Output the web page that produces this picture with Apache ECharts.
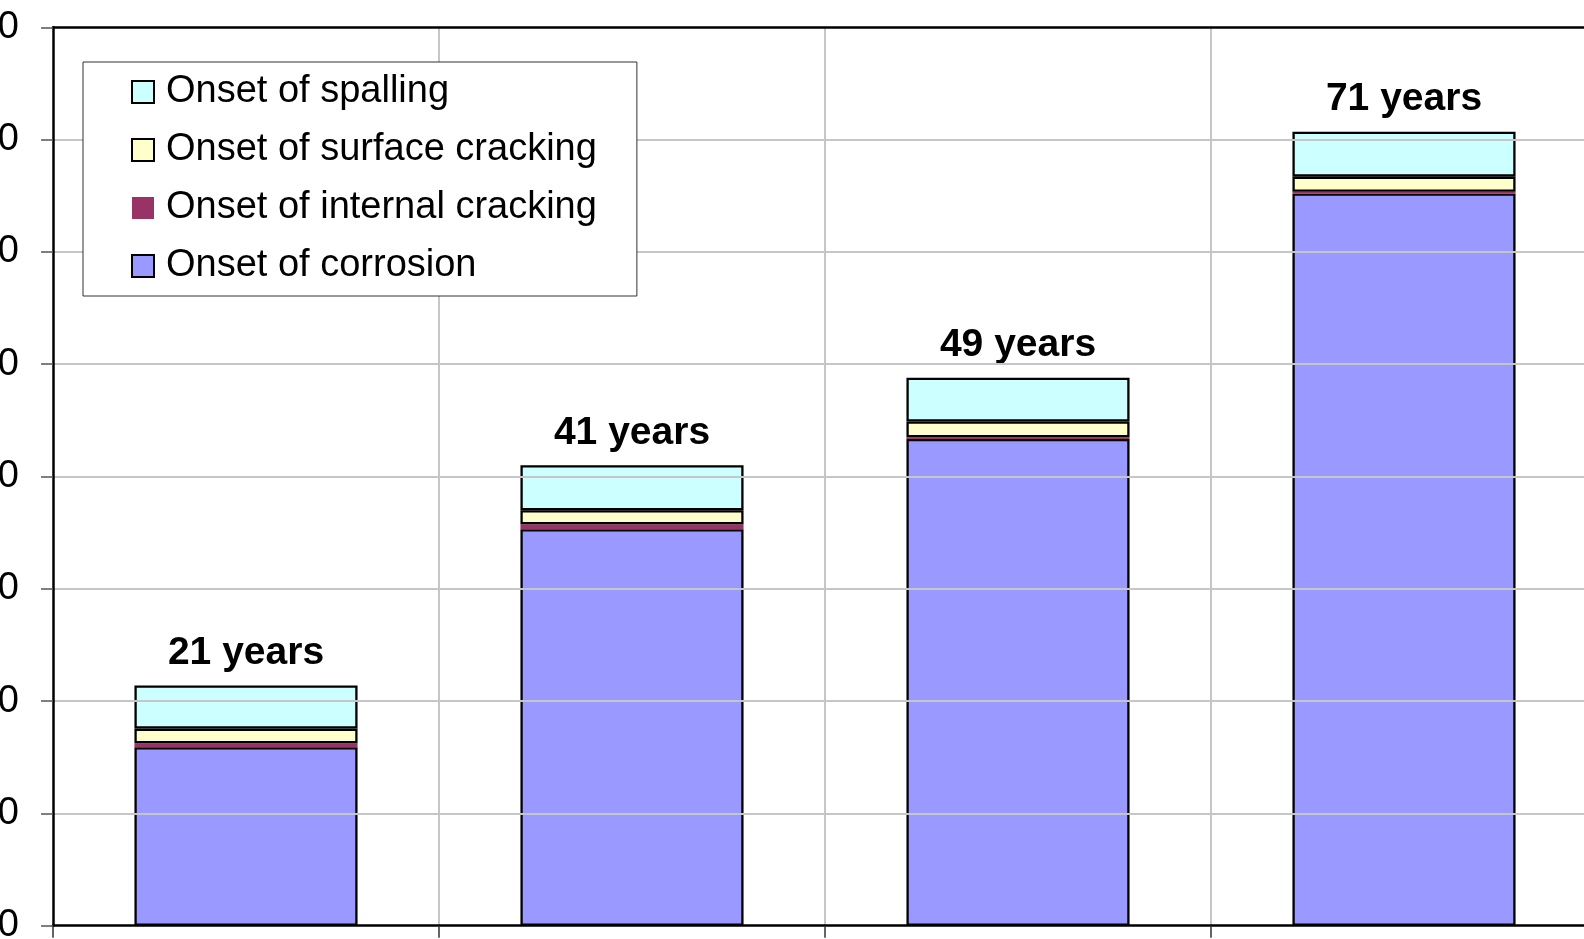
<!DOCTYPE html>
<html>
<head>
<meta charset="utf-8">
<style>
  html, body { margin: 0; padding: 0; background: #fff; }
  #chart { width: 1584px; height: 939px; }
</style>
<script src="https://cdn.jsdelivr.net/npm/echarts@6/dist/echarts.min.js"></script>
</head>
<body>
<div id="chart"></div>
<script>
// Time (years) to each deterioration stage, stacked per case
const categories = ['Case 1', 'Case 2', 'Case 3', 'Case 4'];
const corrosion        = [15.9, 35.3, 43.35, 65.2];
const internalCracking = [0.35, 0.45, 0.15, 0.15];
const surfaceCracking  = [1.3, 1.25, 1.4, 1.35];
const spalling         = [3.85, 4.0, 3.9, 4.0];
const yTicks = [0, 10, 20, 30, 40, 50, 60, 70, 80];

const seriesNames = ['Onset of corrosion', 'Onset of internal cracking',
                     'Onset of surface cracking', 'Onset of spalling'];

// Total service life per case = sum of all stages
const totals = categories.map((_, i) =>
  corrosion[i] + internalCracking[i] + surfaceCracking[i] + spalling[i]);

const FONT = '"Liberation Sans", Arial, Helvetica, sans-serif';

const chart = echarts.init(document.getElementById('chart'));

const bordered = (color) => ({ color: color, borderColor: '#000', borderWidth: 2.3 });

chart.setOption({
  animation: false,
  backgroundColor: '#fff',
  grid: {
    left: 53, top: 27.3, width: 1544, height: 898.4,
    containLabel: false, outerBoundsMode: 'none'
  },
  legend: {
    orient: 'vertical',
    left: 83,
    top: 62,
    data: [seriesNames[3], seriesNames[2], seriesNames[1], seriesNames[0]],
    icon: 'rect',
    itemWidth: 22,
    itemHeight: 22,
    itemGap: 20,
    padding: [11, 40, 11, 48],
    backgroundColor: '#fff',
    borderColor: '#333',
    borderWidth: 1,
    textStyle: { fontFamily: FONT, fontSize: 38, color: '#000', padding: [0, 0, 0, 7] },
    z: 6
  },
  xAxis: [{
    type: 'category',
    data: categories,
    axisLine: { lineStyle: { color: '#000', width: 2.5 } },
    axisTick: { show: true, interval: 0, length: 12, lineStyle: { color: '#333', width: 1.5 } },
    axisLabel: { show: false },
    splitLine: {
      show: true, interval: 0, showMinLine: false, showMaxLine: false,
      lineStyle: { color: '#c6c6c6', width: 2 }
    },
    z: 4
  }, {
    type: 'category',
    position: 'top',
    data: categories,
    axisLine: { show: true, lineStyle: { color: '#000', width: 2.5 } },
    axisTick: { show: false },
    axisLabel: { show: false },
    splitLine: { show: false },
    z: 4
  }],
  yAxis: {
    type: 'value',
    min: 0,
    max: 80,
    interval: 10,
    axisLine: { show: true, lineStyle: { color: '#000', width: 2.5 } },
    axisTick: { show: true, length: 12, lineStyle: { color: '#555', width: 1.5 } },
    axisLabel: {
      margin: 34,
      fontFamily: FONT,
      fontSize: 38,
      color: '#000',
      formatter: (v) => yTicks.includes(v) ? String(v) : ''
    },
    splitLine: {
      show: true, showMinLine: false, showMaxLine: false,
      lineStyle: { color: '#c6c6c6', width: 2 }
    },
    z: 4
  },
  series: [
    {
      name: seriesNames[0], type: 'bar', stack: 'life', data: corrosion,
      barWidth: '57.8%', itemStyle: bordered('#9999ff')
    },
    {
      name: seriesNames[1], type: 'bar', stack: 'life', data: internalCracking,
      barWidth: '57.8%', itemStyle: { color: '#993366', borderWidth: 0 }
    },
    {
      name: seriesNames[2], type: 'bar', stack: 'life', data: surfaceCracking,
      barWidth: '57.8%', itemStyle: bordered('#ffffcc')
    },
    {
      name: seriesNames[3], type: 'bar', stack: 'life', data: spalling,
      barWidth: '57.8%', itemStyle: bordered('#ccffff'),
      label: {
        show: true,
        position: 'top',
        distance: 13,
        fontFamily: FONT,
        fontSize: 39,
        fontWeight: 'bold',
        color: '#000',
        formatter: (p) => Math.round(totals[p.dataIndex]) + ' years'
      }
    }
  ]
});
</script>
</body>
</html>
